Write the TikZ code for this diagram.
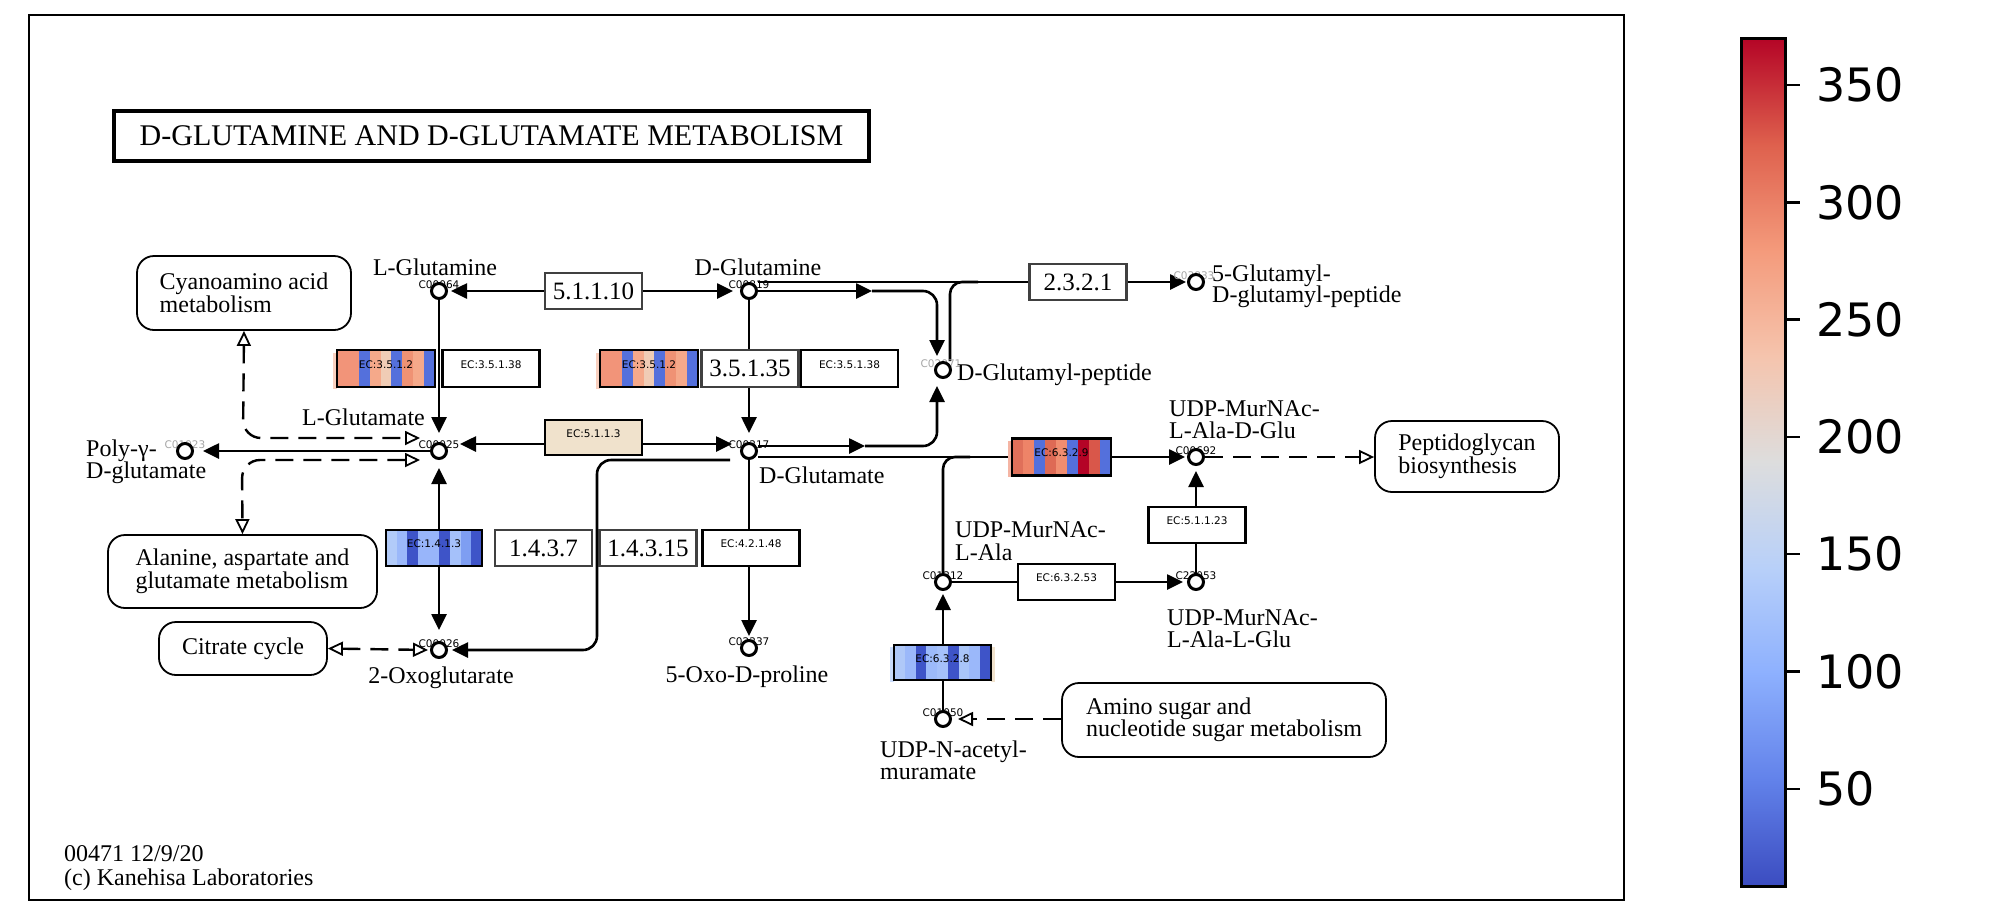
\documentclass[tikz,border=0pt]{standalone}
\usepackage{fontspec}
\setmainfont{Liberation Serif}
\newfontfamily\ecfont{DejaVu Sans}
\usetikzlibrary{arrows.meta}
\pgfdeclarelayer{bgl}\pgfdeclarelayer{lines}\pgfsetlayers{bgl,lines,main}

\definecolor{salA}{RGB}{242,148,121}
\definecolor{salB}{RGB}{245,169,138}
\definecolor{salC}{RGB}{239,146,116}
\definecolor{paleS}{RGB}{240,204,181}
\definecolor{bluM}{RGB}{84,112,220}
\definecolor{lbA}{RGB}{178,203,249}
\definecolor{lbB}{RGB}{155,184,250}
\definecolor{lbC}{RGB}{152,181,250}
\definecolor{lbD}{RGB}{165,193,250}
\definecolor{lbE}{RGB}{126,158,242}
\definecolor{dkB}{RGB}{62,84,200}
\definecolor{lbF}{RGB}{175,200,248}
\definecolor{lbG}{RGB}{156,186,250}
\definecolor{lbH}{RGB}{169,197,248}
\definecolor{rdA}{RGB}{224,112,90}
\definecolor{rdB}{RGB}{238,132,104}
\definecolor{rdC}{RGB}{222,106,85}
\definecolor{rdD}{RGB}{240,141,112}
\definecolor{rdE}{RGB}{180,4,38}
\definecolor{rdF}{RGB}{217,87,74}
\definecolor{beigeE}{RGB}{240,226,204}
\definecolor{cw0}{RGB}{59,76,192}
\definecolor{cw1}{RGB}{98,130,234}
\definecolor{cw2}{RGB}{141,176,254}
\definecolor{cw3}{RGB}{184,208,249}
\definecolor{cw4}{RGB}{221,221,221}
\definecolor{cw5}{RGB}{245,196,173}
\definecolor{cw6}{RGB}{244,154,123}
\definecolor{cw7}{RGB}{222,96,77}
\definecolor{cw8}{RGB}{180,4,38}

\newcommand\stripefill[6]{%
  \foreach \cc [count=\ii from 0] in {#6} {
    \fill[\cc] ({#1+\ii*(#3-#1)/#5},#2) rectangle ({#1+(\ii+1)*(#3-#1)/#5+0.4},#4);
  }}

\tikzset{
  >={Triangle[length=16pt,width=15pt]},
  conn/.style={line width=2.6pt},
  dconn/.style={line width=2.4pt,dash pattern=on 18pt off 10pt},
  oend/.style={-{Triangle[open,length=15pt,width=14pt,line width=1.8pt]}},
  oboth/.style={{Triangle[open,length=15pt,width=14pt,line width=1.8pt]}-{Triangle[open,length=15pt,width=14pt,line width=1.8pt]}},
  cpd/.style={circle,draw,line width=3pt,fill=white,minimum size=15pt,inner sep=0pt},
  code/.style={font=\ecfont\fontsize{10.5}{10.5}\selectfont,inner sep=0pt},
  gcode/.style={code,text=black!35},
  lbl/.style={font=\fontsize{24}{22}\selectfont,inner sep=0pt},
  ecbox/.style={draw,line width=2.8pt,minimum width=97pt,minimum height=36pt,inner sep=0pt,text height=7pt,text depth=8pt,font=\ecfont\fontsize{10.5}{10.5}\selectfont},
  ecw/.style={ecbox,fill=white},
  numbox/.style={draw=black!75,line width=2.2pt,fill=white,minimum width=97pt,minimum height=36pt,inner sep=0pt,font=\fontsize{25}{25}\selectfont},
  mapbox/.style={draw,line width=1.8pt,rounded corners=17pt,fill=white,inner sep=0pt,align=left,font=\fontsize{24}{22.5}\selectfont},
  cbtick/.style={font=\ecfont\fontsize{46}{46}\selectfont,anchor=west,inner sep=0pt},
}

\begin{document}
\begin{tikzpicture}[x=1pt,y=-1pt]
\useasboundingbox (0,0) rectangle (1993,921);
\begin{pgfonlayer}{bgl}
\fill[white] (0,0) rectangle (1993,921);
\end{pgfonlayer}
\draw[line width=2pt] (29,15) rectangle (1624,900);

% title
\node[draw,line width=4pt,minimum width=755pt,minimum height=50pt,inner sep=0pt,font=\fontsize{30}{30}\selectfont] (title) at (491.5,136) {D-GLUTAMINE AND D-GLUTAMATE METABOLISM};

% stripes of coloured enzyme boxes
\fill[salB!55] (333,353) rectangle (337,389);
\stripefill{337}{350}{435}{387}{9}{salA,salA,bluM,salB,paleS,bluM,salC,salB,bluM}
\fill[salB!55] (596,353) rectangle (600,389);
\stripefill{600}{350}{698}{387}{9}{salA,salA,bluM,salB,paleS,bluM,salC,salB,bluM}
\stripefill{386}{530}{482}{566}{9}{lbA,lbB,dkB,lbC,lbC,dkB,lbD,lbE,dkB}
\fill[rdB!60] (1008,441) rectangle (1012,477);
\stripefill{1012}{438.5}{1111}{475.5}{9}{rdA,rdB,bluM,rdC,rdD,bluM,rdE,rdF,bluM}
\fill[lbA!70] (890,647) rectangle (894,682);
\fill[beigeE] (991,647) rectangle (995,682);
\stripefill{894}{645}{991}{680}{9}{lbF,lbB,dkB,lbG,lbD,dkB,lbH,lbB,dkB}

% enzyme boxes
\node[numbox] (E51110) at (593.5,291) {5.1.1.10};
\node[ecbox,minimum width=98pt,minimum height=37pt] (E3512a) at (386,368.5) {EC:3.5.1.2};
\node[ecw,minimum height=37pt] (E35138a) at (491,368.5) {EC:3.5.1.38};
\node[ecbox,minimum width=98pt,minimum height=37pt] (E3512b) at (649,368.5) {EC:3.5.1.2};
\node[numbox,minimum height=37pt] (E35135) at (750,368.5) {3.5.1.35};
\node[ecw,minimum height=37pt] (E35138b) at (849.5,368.5) {EC:3.5.1.38};
\node[ecbox,fill=beigeE,minimum height=35pt] (E5113) at (593.5,437.5) {EC:5.1.1.3};
\node[numbox] (E2321) at (1078,282) {2.3.2.1};
\node[ecbox,minimum width=99pt,minimum height=37pt] (E6329) at (1061.5,457) {EC:6.3.2.9};
\node[ecbox,minimum width=96pt] (E1413) at (434,548) {EC:1.4.1.3};
\node[numbox] (E1437) at (543.5,548) {1.4.3.7};
\node[numbox] (E14315) at (648,548) {1.4.3.15};
\node[ecw] (E42148) at (751,548) {EC:4.2.1.48};
\node[ecw] (E63253) at (1066.5,582) {EC:6.3.2.53};
\node[ecbox,minimum height=35pt] (E6328) at (942.5,662.5) {EC:6.3.2.8};
\node[ecw] (E51123) at (1197,525) {EC:5.1.1.23};

% map boxes
\node[mapbox,minimum width=214pt,minimum height=74pt] (Cyano) at (244,293) {Cyanoamino acid\\metabolism};
\node[mapbox,minimum width=269pt,minimum height=73pt] (Alanine) at (242.5,571.5) {Alanine, aspartate and\\glutamate metabolism};
\node[mapbox,minimum width=168pt,minimum height=53pt] (Citrate) at (243,648.5) {Citrate cycle};
\node[mapbox,minimum width=184pt,minimum height=71pt] (Peptido) at (1467,456.5) {Peptidoglycan\\biosynthesis};
\node[mapbox,minimum width=324pt,minimum height=74pt] (Amino) at (1224,720) {Amino sugar and\\nucleotide sugar metabolism};

% compound codes and circles
\node[code] (tLgln) at (439,285) {C00064};
\node[cpd] (Lgln) at (439,291) {};
\node[code] (tLglu) at (439,445) {C00025};
\node[cpd] (Lglu) at (439,451) {};
\node[code] (tDgln) at (749,285) {C00819};
\node[cpd] (Dgln) at (749,291) {};
\node[code] (tDglu) at (749,445) {C00217};
\node[cpd] (Dglu) at (749,451) {};
\node[gcode] (tDGpep) at (941,364) {C02071};
\node[cpd] (DGpep) at (943,370) {};
\node[gcode] (tGGpep) at (1194,276) {C03833};
\node[cpd] (GGpep) at (1196,282) {};
\node[gcode] (tPoly) at (185,445) {C01923};
\node[cpd] (Polyglu) at (185,451) {};
\node[code] (tOxo) at (439,644) {C00026};
\node[cpd] (Oxo) at (439,650) {};
\node[code] (tOxopro) at (749,642) {C02237};
\node[cpd] (Oxopro) at (749,648) {};
\node[code] (tUMA) at (943,576) {C01212};
\node[cpd] (UMA) at (943,582) {};
\node[code] (tUNAM) at (943,713) {C01050};
\node[cpd] (UNAM) at (943,719) {};
\node[code] (tUMADG) at (1196,451) {C00692};
\node[cpd] (UMADG) at (1196,457) {};
\node[code] (tUMALG) at (1196,576) {C22053};
\node[cpd] (UMALG) at (1196,582) {};

% compound names
\node[lbl,anchor=base] (nLgln) at (435,275) {L-Glutamine};
\node[lbl,anchor=base east] (nLglu) at (425,425) {L-Glutamate};
\node[lbl,anchor=base] (nDgln) at (758,275) {D-Glutamine};
\node[lbl,anchor=base west] (nDglu) at (759,483) {D-Glutamate};
\node[lbl,anchor=base west] (nDGpep) at (957,380) {D-Glutamyl-peptide};
\node[lbl,anchor=base west] (nGG1) at (1212,281) {5-Glutamyl-};
\node[lbl,anchor=base west] (nGG2) at (1212,302) {D-glutamyl-peptide};
\node[lbl,anchor=base west] (nPoly1) at (86,456) {Poly-γ-};
\node[lbl,anchor=base west] (nPoly2) at (86,478) {D-glutamate};
\node[lbl,anchor=base] (nOxo) at (441,683) {2-Oxoglutarate};
\node[lbl,anchor=base] (nOxopro) at (747,682) {5-Oxo-D-proline};
\node[lbl,anchor=base west] (nUMA1) at (955,537) {UDP-MurNAc-};
\node[lbl,anchor=base west] (nUMA2) at (955,560) {L-Ala};
\node[lbl,anchor=base west] (nUNAM1) at (880,757) {UDP-N-acetyl-};
\node[lbl,anchor=base west] (nUNAM2) at (880,779) {muramate};
\node[lbl,anchor=base west] (nUMADG1) at (1169,416) {UDP-MurNAc-};
\node[lbl,anchor=base west] (nUMADG2) at (1169,438) {L-Ala-D-Glu};
\node[lbl,anchor=base west] (nUMALG1) at (1167,625) {UDP-MurNAc-};
\node[lbl,anchor=base west] (nUMALG2) at (1167,647) {L-Ala-L-Glu};

% footer
\node[lbl,anchor=base west] (ft1) at (64,861) {00471 12/9/20};
\node[lbl,anchor=base west] (ft2) at (64,885) {(c) Kanehisa Laboratories};

% bend coordinates
\coordinate (m1) at (872,291);
\coordinate (c1) at (937,291);
\coordinate (m2) at (865,446);
\coordinate (c2) at (937,446);
\coordinate (c3) at (950,282);
\coordinate (c4) at (978,282);
\coordinate (c5) at (943,457);
\coordinate (c6) at (970,457);
\coordinate (b1) at (597,460);
\coordinate (b2) at (597,650);
\coordinate (c7) at (243,438);
\coordinate (cyE) at (420,438);
\coordinate (alE) at (420,460);
\coordinate (c8) at (242,460);

% connectors
\begin{pgfonlayer}{lines}
\draw[conn,->,shorten >=3pt] (E51110.west) -- (Lgln.east);
\draw[conn,->,shorten >=7pt] (E51110.east) -- (Dgln.west);
\draw[conn,->,shorten >=9pt] (Lgln.south) -- (Lglu.north);
\draw[conn,->,shorten >=9pt] (Dgln.south) -- (Dglu.north);
\draw[conn,->,shorten >=12pt] ([yshift=-6.5pt]E5113.west) -- ([yshift=7pt]Lglu.east);
\draw[conn,->,shorten >=8pt] ([yshift=-6.5pt]E5113.east) -- ([yshift=7pt]Dglu.west);
\draw[conn,->,shorten >=9pt] (Lglu.west) -- (Polyglu.east);
\draw[conn,<->,shorten <=8pt,shorten >=11pt] (Lglu.south) -- (Oxo.north);
\draw[conn,->,shorten >=3pt] (Dglu.south) -- (Oxopro.north);
\draw[conn,->,rounded corners=14pt,shorten >=4pt] ([xshift=-10pt,yshift=-9pt]Dglu.west) -- (b1) -- (b2) -- (Oxo.east);
\draw[conn,->] (Dgln.east) -- (m1);
\draw[conn,->,rounded corners=14pt,shorten >=5pt] (m1) -- (c1) -- ([xshift=-6pt]DGpep.north);
\draw[conn,->] ([yshift=5pt]Dglu.east) -- (m2);
\draw[conn,->,rounded corners=14pt,shorten >=7pt] (m2) -- (c2) -- ([xshift=-6pt]DGpep.south);
\draw[conn] ([yshift=9pt]Dgln.east) -- (E2321.west);
\draw[conn,->,shorten >=1pt] (E2321.east) -- (GGpep.west);
\draw[conn,rounded corners=12pt] ([xshift=7pt]DGpep.north) -- (c3) -- (c4);
\draw[conn] ([yshift=-6pt]Dglu.east) -- (E6329.west);
\draw[conn,->,shorten >=2pt] (E6329.east) -- (UMADG.west);
\draw[conn,rounded corners=12pt] (UMA.north) -- (c5) -- (c6);
\draw[conn] (UMA.east) -- (E63253.west);
\draw[conn,->,shorten >=4pt] (E63253.east) -- (UMALG.west);
\draw[conn,->,shorten >=5pt] (UMALG.north) -- (UMADG.south);
\draw[conn,->,shorten >=3pt] (UNAM.north) -- (UMA.south);
\draw[dconn,oend] (UMADG.east) -- (Peptido.west |- UMADG.east);
\draw[dconn,oend,shorten >=6pt] (Amino.west |- UNAM.east) -- (UNAM.east);
\draw[dconn,oboth,shorten >=2pt] (Citrate.east) -- (Oxo.west);
\draw[dconn,oboth,rounded corners=18pt] (Cyano.south) -- (c7) -- (cyE);
\draw[dconn,oboth,rounded corners=18pt] (alE) -- (c8) -- (Alanine.north);
\end{pgfonlayer}

% colour bar
\foreach \i/\ca/\cb in {0/cw0/cw1,1/cw1/cw2,2/cw2/cw3,3/cw3/cw4,4/cw4/cw5,5/cw5/cw6,6/cw6/cw7,7/cw7/cw8} {
  \shade[bottom color=\ca,top color=\cb] (1741,{886-(\i+1)*106-0.6}) rectangle (1785,{886-\i*106});
}
\draw[line width=3pt] (1741,38) rectangle (1785,886);
\foreach \v in {50,100,...,350} {
  \draw[line width=2.5pt] (1785,{85+(350-\v)*2.346}) -- ++(15,0);
  \node[cbtick] (cb\v) at (1816,{85+(350-\v)*2.346}) {\v};
}
\end{tikzpicture}
\end{document}
